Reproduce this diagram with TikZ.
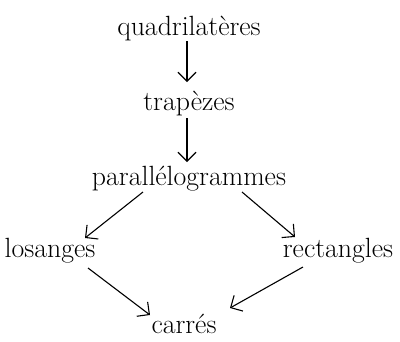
\documentclass[tikz,border=0pt]{standalone}
\usetikzlibrary{arrows.meta}
\begin{document}
\begin{tikzpicture}[x=1pt,y=1pt,
  lbl/.style={anchor=base,inner sep=0pt,font=\fontsize{27.8}{32}\selectfont},
  arr/.style={line width=1.1pt,-{Straight Barb[length=9pt,width=18pt,line width=1.1pt]}}]
\useasboundingbox (0,0) rectangle (400,-341);
\node[lbl] (quad) at (189,-35) {quadrilatères};
\node[lbl] (trap) at (189,-110) {trapèzes};
\node[lbl] (par) at (189,-185) {parallélogrammes};
\node[lbl] (los) at (50,-257) {losanges};
\node[lbl] (rect) at (338,-257) {rectangles};
\node[lbl] (car) at (184,-333) {carrés};
\draw[arr] ([shift={(-2,-6)}]quad.base) -- ([shift={(-2,28)}]trap.base);
\draw[arr] ([shift={(-2,-8)}]trap.base) -- ([shift={(-2,23)}]par.base);
\draw[arr] ([shift={(-46,-7)}]par.base) -- ([shift={(35,19)}]los.base);
\draw[arr] ([shift={(53,-7)}]par.base) -- ([shift={(-43,20)}]rect.base);
\draw[arr] ([shift={(38,-11)}]los.base) -- ([shift={(-34,18)}]car.base);
\draw[arr] ([shift={(-35,-10)}]rect.base) -- ([shift={(46,25)}]car.base);
\end{tikzpicture}
\end{document}
